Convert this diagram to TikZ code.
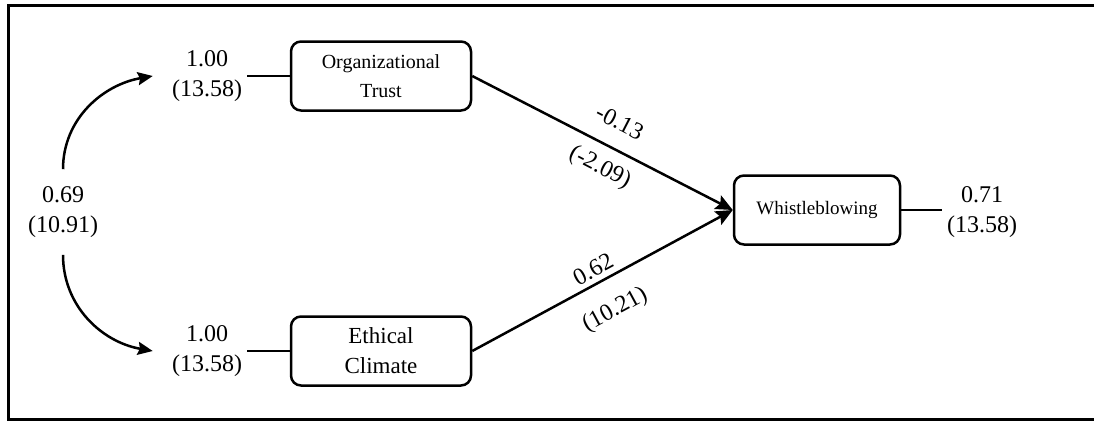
\documentclass[tikz,border=0pt]{standalone}
\usepackage{fontspec}
\setmainfont{Liberation Serif}
\usetikzlibrary{arrows.meta}

\begin{document}
\begin{tikzpicture}[x=1pt,y=-1pt,line width=2.5pt,
	box/.style={draw,rounded corners=10pt,align=center,minimum height=69pt,inner sep=2pt},
	est/.style={align=center,inner sep=4pt,font=\fontsize{24}{30}\selectfont},
	path/.style={-{Stealth[length=17pt,width=15pt,inset=3pt]}},
	cov/.style={-{Stealth[length=15pt,width=13pt,inset=2pt]}}]
	\useasboundingbox (0,0) rectangle (1094,421);
	% frame
	\draw[line width=3pt] (1096,5) -- (8,5) -- (8,419) -- (1096,419);
	% variables
	\node[box,minimum width=180pt,font=\fontsize{20}{29}\selectfont] (ot) at (381,76) {Organizational\\Trust};
	\node[box,minimum width=180pt,font=\fontsize{23}{30}\selectfont] (ec) at (381,351) {Ethical\\Climate};
	\node[box,minimum width=166pt,font=\fontsize{19}{24}\selectfont] (wb) at (817,210) {Whistleblowing};
	% estimates
	\node[est] (ot-var) at (207,76) {1.00\\(13.58)};
	\node[est] (ec-var) at (207,351) {1.00\\(13.58)};
	\node[est] (cor) at (63,212) {0.69\\(10.91)};
	\node[est] (wb-var) at (982,212) {0.71\\(13.58)};
	\draw (ot-var) -- (ot);
	\draw (ec-var) -- (ec);
	\draw (wb) -- (wb-var.west |- wb.east);
	\draw[cov] ([yshift=12pt]cor.north) to[out=90,in=190] ([xshift=-14pt]ot-var.west);
	\draw[cov] ([yshift=-12pt]cor.south) to[out=-90,in=170] ([xshift=-14pt]ec-var.west);
	% paths
	\draw[path] (ot.east) -- (wb.west)
		node[est,sloped,above=13pt,pos=.52] (ot-b) {-0.13}
		node[est,sloped,below=7pt,pos=.53] (ot-t) {(-2.09)};
	\draw[path] (ec.east) -- (wb.west)
		node[est,sloped,above=1pt,pos=.49] (ec-b) {0.62}
		node[est,sloped,below=16pt,pos=.49] (ec-t) {(10.21)};
\end{tikzpicture}
\end{document}
